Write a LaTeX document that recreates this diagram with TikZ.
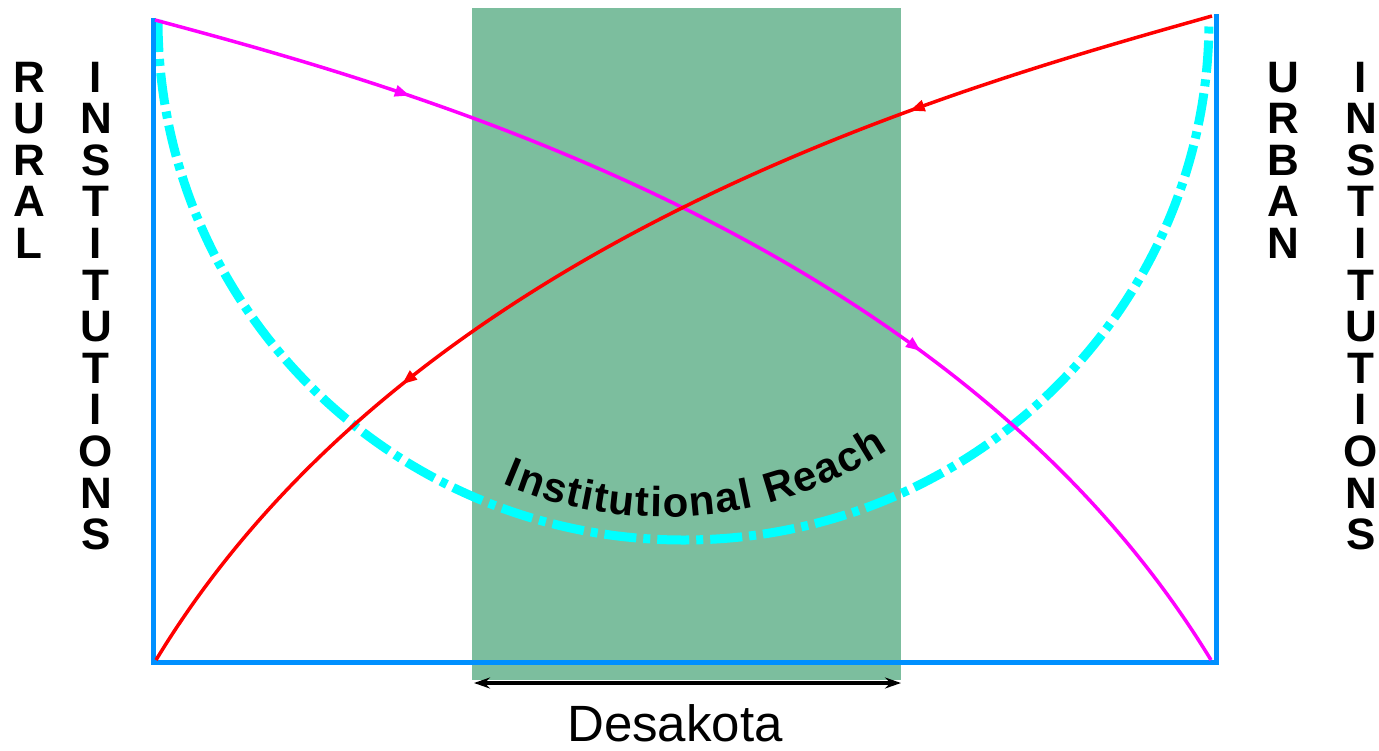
\documentclass[tikz,border=0pt]{standalone}
\usepackage{fontspec}
\setmainfont{Liberation Sans}
\usetikzlibrary{arrows.meta,decorations.markings,decorations.text}
\definecolor{desagreen}{RGB}{124,190,158}
\definecolor{frameblue}{RGB}{0,144,255}
\definecolor{reachcyan}{RGB}{0,255,255}
\definecolor{flowmag}{RGB}{255,0,255}
\definecolor{flowred}{RGB}{255,0,0}
\begin{document}
\begin{tikzpicture}[x=1pt,y=-1pt,
  letter/.style={font=\fontsize{44}{44}\selectfont\bfseries, inner sep=0pt, anchor=base},
  frame/.style={line width=5pt, draw=frameblue, line join=miter},
  reach/.style={line width=9pt, draw=reachcyan, dash pattern=on 32pt off 7pt on 7pt off 7pt},
  flow/.style={line width=3.5pt},
]
\useasboundingbox (0,0) rectangle (1379,750);
% Desakota band
\fill[desagreen] (472,8) rectangle (901,680);
% institutional reach arc
\coordinate (cL) at (158,20);
\draw[reach] (cL) arc[start angle=180,end angle=0,x radius=525.5,y radius=520];
% frame
\coordinate (TL) at (153,18);
\coordinate (BL) at (153,662);
\coordinate (BR) at (1216,662);
\coordinate (TR) at (1216,14);
\draw[frame] (TL) -- (BL) -- (BR) -- (TR);
% curved label
\coordinate (tS) at (502.9,483.9);
\path[decorate,decoration={text along path,
  text={|\fontsize{42}{42}\selectfont\bfseries|Institutional Reach},
  text align={fit to path}}]
  (tS) arc[start angle=113.2,end angle=56.8,radius=409];
% flows
\coordinate (mS) at (155,20);
\coordinate (mE) at (1211,660);
\coordinate (rS) at (1212,16);
\coordinate (rE) at (156,660);
\draw[flow, draw=flowmag, postaction={decorate,decoration={markings,
   mark=at position 0.21 with {\arrow[flowmag]{Triangle[length=15pt,width=11pt]}},
   mark=at position 0.663 with {\arrow[flowmag]{Triangle[length=15pt,width=11pt]}}}}]
  (mS) .. controls (409,88) and (954,238) .. (mE);
\draw[flow, draw=flowred, postaction={decorate,decoration={markings,
   mark=at position 0.25 with {\arrow[flowred]{Triangle[length=15pt,width=11pt]}},
   mark=at position 0.707 with {\arrow[flowred]{Triangle[length=15pt,width=11pt]}}}}]
  (rS) .. controls (957,88) and (412,238) .. (rE);
% vertical labels
\foreach \l [count=\i] in {R,U,R,A,L}
  \node[letter] (rur\i) at (29,{92+41.6*(\i-1)}) {\l};
\foreach \l [count=\i] in {I,N,S,T,I,T,U,T,I,O,N,S}
  \node[letter] (lin\i) at (96,{92+41.6*(\i-1)}) {\l};
\foreach \l [count=\i] in {U,R,B,A,N}
  \node[letter] (urb\i) at (1283,{92+41.6*(\i-1)}) {\l};
\foreach \l [count=\i] in {I,N,S,T,I,T,U,T,I,O,N,S}
  \node[letter] (rin\i) at (1361,{92+41.6*(\i-1)}) {\l};
% Desakota extent
\coordinate (dL) at (474,683);
\coordinate (dR) at (901,683);
\draw[line width=3.5pt, {Stealth[length=16pt,width=11pt]}-{Stealth[length=16pt,width=11pt]}] (dL) -- (dR);
\node[font=\fontsize{51}{51}\selectfont, inner sep=0pt, anchor=base] (desa) at (675,741) {Desakota};
\end{tikzpicture}
\end{document}
